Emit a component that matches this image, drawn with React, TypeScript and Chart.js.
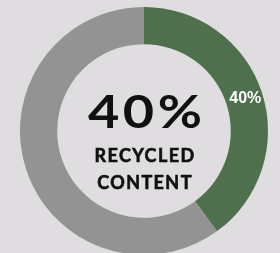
import React, { useEffect, useRef } from "react";
import { Chart, registerables } from "chart.js";

Chart.register(...registerables);

const categories = ["Recycled", "Other"];
const values = [40, 60];
const colors = ["#4e704c", "#939394"];
const centerValue = "40%";
const centerLines = ["RECYCLED", "CONTENT"];
const segmentLabels = ["40%", ""];

const textPlugin = {
  id: "centerText",
  afterDatasetsDraw(chart: any) {
    const ctx = chart.ctx;
    const area = chart.chartArea;
    const cx = (area.left + area.right) / 2;
    const cy = (area.top + area.bottom) / 2;
    ctx.save();
    ctx.fillStyle = "#111111";
    ctx.strokeStyle = "#111111";
    ctx.textAlign = "center";
    ctx.textBaseline = "alphabetic";
    ctx.save();
    ctx.translate(cx + 1, cy - 3);
    ctx.scale(1.2, 1);
    ctx.font = "bold 45px Lato";
    (ctx as any).letterSpacing = "3px";
    ctx.fillText(centerValue, 1.5, 0);
    ctx.restore();
    ctx.font = "bold 18px Lato";
    (ctx as any).letterSpacing = "1.4px";
    ctx.lineWidth = 0.6;
    ctx.fillText(centerLines[0], cx + 1, cy + 31);
    ctx.strokeText(centerLines[0], cx + 1, cy + 31);
    ctx.fillText(centerLines[1], cx + 1, cy + 58);
    ctx.strokeText(centerLines[1], cx + 1, cy + 58);
    const meta = chart.getDatasetMeta(0);
    ctx.fillStyle = "#ffffff";
    ctx.font = "bold 16px 'Liberation Sans'";
    (ctx as any).letterSpacing = "0px";
    ctx.textBaseline = "middle";
    meta.data.forEach((arc: any, i: number) => {
      if (!segmentLabels[i]) return;
      const p = arc.tooltipPosition();
      ctx.fillText(segmentLabels[i], p.x + 1, p.y);
    });
    ctx.restore();
  },
};

export default function App() {
  const ref = useRef<HTMLCanvasElement>(null);
  useEffect(() => {
    const chart = new Chart(ref.current!, {
      type: "doughnut",
      data: {
        labels: categories,
        datasets: [
          {
            data: values,
            backgroundColor: colors,
            borderWidth: 0,
          },
        ],
      },
      options: {
        animation: false,
        responsive: false,
        cutout: "70%",
        layout: { padding: 7 },
        plugins: {
          legend: { display: false },
          tooltip: { enabled: false },
        },
      },
      plugins: [textPlugin],
    });
    return () => chart.destroy();
  }, []);
  return (
    <div
      style={{
        position: "fixed",
        left: 0,
        top: 0,
        width: 280,
        height: 253,
        overflow: "hidden",
        background: "#dfdddf",
      }}
    >
      <canvas ref={ref} width={288} height={262} style={{ width: 288, height: 262, display: "block" }} />
    </div>
  );
}
